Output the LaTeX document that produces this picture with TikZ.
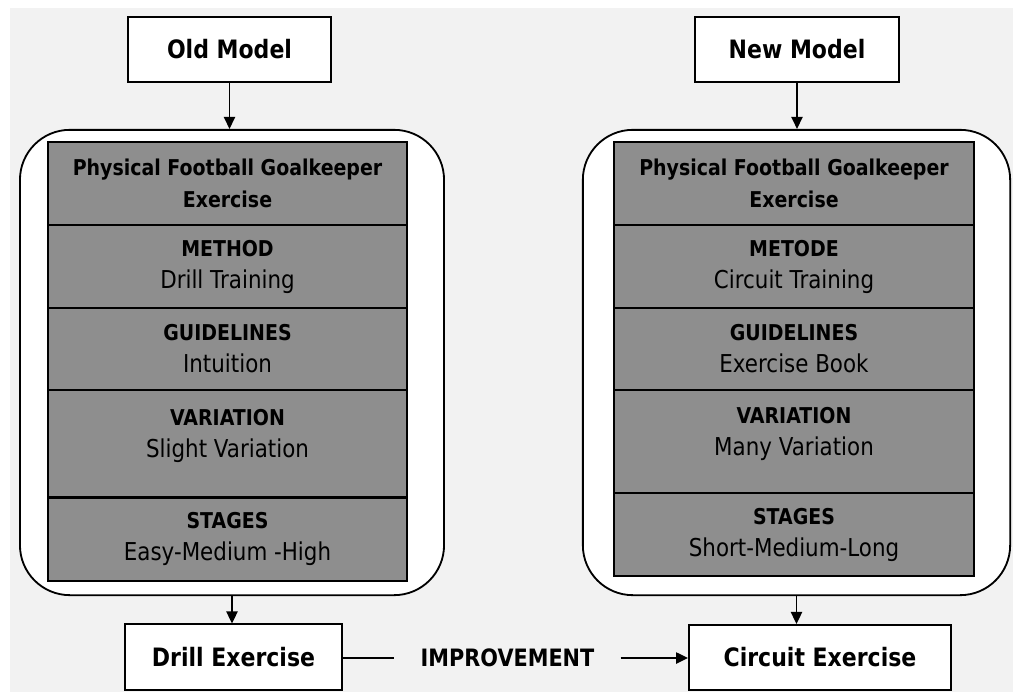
\documentclass[tikz,border=0pt]{standalone}
\usepackage{fontspec}
\setmainfont[FakeStretch=0.87]{DejaVu Sans}
\usetikzlibrary{arrows.meta}
\definecolor{rowgray}{RGB}{142,142,142}
\definecolor{paper}{RGB}{242,242,242}
\newcommand{\rowhead}[1]{{\fontsize{15.5}{22.8}\selectfont\bfseries #1}}

\begin{document}
\begin{tikzpicture}[x=0.025cm, y=-0.025cm,
    modelbox/.style={draw, line width=1.3pt, fill=white, minimum height=1.63cm,
      font=\fontsize{18}{22}\selectfont\bfseries},
    frame/.style={draw, line width=1.3pt, fill=white, rounded corners=1.25cm},
    rowbox/.style={draw, line width=1.2pt, fill=rowgray, align=center,
      font=\fontsize{17.5}{22.8}\selectfont},
    link/.style={line width=1.2pt, -{Triangle[length=0.3cm, width=0.28cm]}}]
  % paper
  \fill[white] (0,0) rectangle (1013,692);
  \fill[paper] (10,8) rectangle (1013,692);

  % old model
  \node[modelbox, minimum width=5.08cm] (oldmodel) at (229.5,49.5) {Old Model};
  \node[frame, minimum width=10.6cm, minimum height=11.63cm] (oldframe) at (232,362.5) {};
  \node[rowbox, minimum width=8.98cm, minimum height=2.08cm] (o1) at (227.5,183.5)
    {\rowhead{Physical Football Goalkeeper}\\\rowhead{Exercise}};
  \node[rowbox, minimum width=8.98cm, minimum height=2.08cm] (o2) at (227.5,266.5)
    {\rowhead{METHOD}\\Drill Training};
  \node[rowbox, minimum width=8.98cm, minimum height=2.05cm] (o3) at (227.5,349)
    {\rowhead{GUIDELINES}\\Intuition};
  \node[rowbox, minimum width=8.98cm, minimum height=2.68cm] (o4) at (227.5,443.5)
    {\rowhead{VARIATION}\\Slight Variation\\[-9pt]\mbox{}};
  \node[rowbox, minimum width=8.98cm, minimum height=2.1cm] (o5) at (227.5,539)
    {\rowhead{STAGES}\\Easy-Medium -High};
  \draw[line width=2pt] (o4.south west) -- (o4.south east);
  \node[modelbox, minimum width=5.43cm] (drill) at (233.5,657) {Drill Exercise};

  % new model
  \node[modelbox, minimum width=5.1cm] (newmodel) at (797,49.5) {New Model};
  \node[frame, minimum width=10.68cm, minimum height=11.63cm] (newframe) at (796.5,362.5) {};
  \node[rowbox, minimum width=9cm, minimum height=2.08cm] (n1) at (794,183.5)
    {\rowhead{Physical Football Goalkeeper}\\\rowhead{Exercise}};
  \node[rowbox, minimum width=9cm, minimum height=2.08cm] (n2) at (794,266.5)
    {\rowhead{METODE}\\Circuit Training};
  \node[rowbox, minimum width=9cm, minimum height=2.05cm] (n3) at (794,349)
    {\rowhead{GUIDELINES}\\Exercise Book};
  \node[rowbox, minimum width=9cm, minimum height=2.58cm] (n4) at (794,441.5)
    {\rowhead{VARIATION}\\Many Variation\\[-9pt]\mbox{}};
  \node[rowbox, minimum width=9cm, minimum height=2.08cm] (n5) at (794,534.5)
    {\rowhead{STAGES}\\Short-Medium-Long};
  \node[modelbox, minimum width=6.55cm] (circuit) at (820,657.5) {Circuit Exercise};

  \node[font=\fontsize{17}{20}\selectfont\bfseries, inner xsep=0.65cm] (improve)
    at (507.5,658) {IMPROVEMENT};

  % connectors
  \draw[link] (oldmodel.south) -- (oldmodel.south |- oldframe.north);
  \draw[link] (oldframe.south) -- (oldframe.south |- drill.north);
  \draw[link] (newmodel.south) -- (newmodel.south |- newframe.north);
  \draw[link] (newframe.south) -- (newframe.south |- circuit.north);
  \draw[line width=1.2pt] (improve.west -| drill.east) -- (improve.west);
  \draw[link] (improve.east) -- (improve.east -| circuit.west);
\end{tikzpicture}
\end{document}
